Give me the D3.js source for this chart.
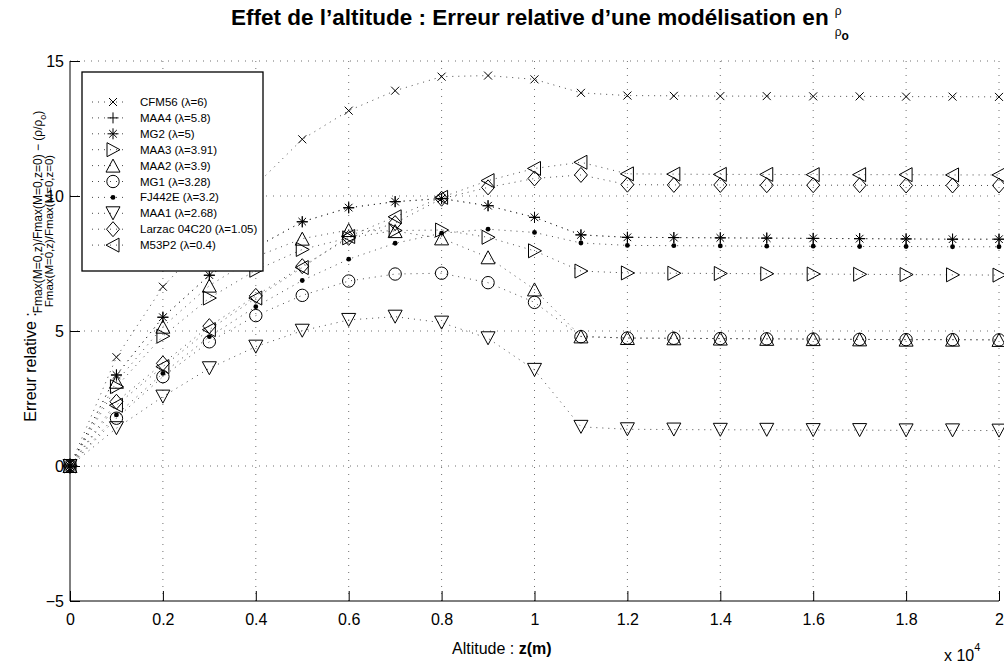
<!DOCTYPE html>
<html>
<head>
<meta charset="utf-8">
<script src="https://cdn.jsdelivr.net/npm/d3@7"></script>
<style>
  body { margin: 0; background: #fff; }
  svg { display: block; font-family: "Liberation Sans", Arial, Helvetica, sans-serif; }
</style>
</head>
<body>
<svg id="chart" width="1004" height="667"></svg>
<script>
// Altitude (m)
const altitudes = [0, 1000, 2000, 3000, 4000, 5000, 6000, 7000, 8000, 9000, 10000,
                   11000, 12000, 13000, 14000, 15000, 16000, 17000, 18000, 19000, 20000];

// Relative error for each engine
const cfm56  = [0, 4.03, 6.64, 8.45, 10.40, 12.10, 13.16, 13.90, 14.42, 14.46, 14.32, 13.82, 13.72, 13.71, 13.70, 13.70, 13.69, 13.69, 13.68, 13.68, 13.67];
const maa4   = [0, 3.37, 5.51, 7.06, 8.10, 9.04, 9.56, 9.79, 9.90, 9.64, 9.21, 8.56, 8.47, 8.46, 8.45, 8.44, 8.43, 8.42, 8.41, 8.40, 8.40];
const mg2    = [0, 3.37, 5.51, 7.07, 8.10, 9.05, 9.57, 9.79, 9.91, 9.64, 9.21, 8.56, 8.47, 8.46, 8.45, 8.44, 8.43, 8.42, 8.41, 8.40, 8.40];
const maa3   = [0, 2.94, 4.81, 6.22, 7.25, 8.02, 8.45, 8.72, 8.74, 8.47, 7.97, 7.22, 7.15, 7.14, 7.13, 7.12, 7.11, 7.10, 7.09, 7.08, 7.07];
const maa2   = [0, 3.12, 5.16, 6.68, 7.75, 8.42, 8.74, 8.70, 8.43, 7.73, 6.54, 4.80, 4.74, 4.73, 4.72, 4.71, 4.70, 4.69, 4.68, 4.68, 4.67];
const mg1    = [0, 1.77, 3.31, 4.60, 5.57, 6.32, 6.85, 7.11, 7.14, 6.79, 6.06, 4.79, 4.74, 4.73, 4.72, 4.71, 4.70, 4.69, 4.68, 4.68, 4.67];
const fj442e = [0, 1.89, 3.43, 4.79, 5.90, 6.87, 7.66, 8.25, 8.62, 8.77, 8.65, 8.26, 8.17, 8.16, 8.15, 8.14, 8.14, 8.13, 8.13, 8.12, 8.12];
const maa1   = [0, 1.40, 2.57, 3.62, 4.42, 5.01, 5.41, 5.53, 5.31, 4.73, 3.56, 1.45, 1.36, 1.35, 1.34, 1.34, 1.33, 1.33, 1.32, 1.32, 1.31];
const larzac = [0, 2.38, 3.80, 5.18, 6.30, 7.40, 8.45, 9.00, 9.90, 10.32, 10.65, 10.78, 10.42, 10.41, 10.41, 10.40, 10.40, 10.40, 10.39, 10.39, 10.39];
const m53p2  = [0, 2.25, 3.68, 5.05, 6.22, 7.35, 8.50, 9.23, 9.95, 10.57, 11.02, 11.25, 10.82, 10.81, 10.80, 10.80, 10.79, 10.79, 10.79, 10.78, 10.78];

const seriesLabels = ["CFM56 (λ=6)", "MAA4 (λ=5.8)", "MG2 (λ=5)", "MAA3 (λ=3.91)", "MAA2 (λ=3.9)",
                      "MG1 (λ=3.28)", "FJ442E (λ=3.2)", "MAA1 (λ=2.68)", "Larzac 04C20 (λ=1.05)", "M53P2 (λ=0.4)"];
const seriesValues = [cfm56, maa4, mg2, maa3, maa2, mg1, fj442e, maa1, larzac, m53p2];
const seriesMarkers = ["x", "plus", "star", "tri-right", "tri-up", "circle", "dot", "tri-down", "diamond", "tri-left"];

const xTicks = [0, 2000, 4000, 6000, 8000, 10000, 12000, 14000, 16000, 18000, 20000];
const yTicks = [-5, 0, 5, 10, 15];

const svg = d3.select("#chart");
const plotLeft = 70, plotRight = 999, plotTop = 61, plotBottom = 601;

const x = d3.scaleLinear().domain([0, 20000]).range([plotLeft, plotRight]);
const y = d3.scaleLinear().domain([-5, 15]).range([plotBottom, plotTop]);

// marker glyphs, centred on the point
function markerPath(kind) {
  switch (kind) {
    case "x": return "M-4,-4L4,4M-4,4L4,-4";
    case "plus": return "M-5.5,0H5.5M0,-5.5V5.5";
    case "star": return "M-5.5,0H5.5M0,-5.5V5.5M-3.8,-3.8L3.8,3.8M-3.8,3.8L3.8,-3.8";
    case "tri-right": return "M-6,-7L7,0L-6,7Z";
    case "tri-left": return "M6,-7L-7,0L6,7Z";
    case "tri-up": return "M0,-6.5L7,6.5L-7,6.5Z";
    case "tri-down": return "M-7,-6.5L7,-6.5L0,6.5Z";
    case "diamond": return "M0,-7.5L6.5,0L0,7.5L-6.5,0Z";
    case "circle": return d3.arc()({innerRadius: 0, outerRadius: 6.2, startAngle: 0, endAngle: 2 * Math.PI});
    case "dot": return d3.arc()({innerRadius: 0, outerRadius: 2.4, startAngle: 0, endAngle: 2 * Math.PI});
  }
}

// grid
const grid = svg.append("g").attr("stroke", "#000").attr("stroke-width", 0.8)
  .attr("stroke-dasharray", "1,6").attr("opacity", 0.7);
grid.selectAll(".gx").data(xTicks.slice(1)).join("line")
  .attr("x1", d => x(d)).attr("x2", d => x(d)).attr("y1", plotBottom).attr("y2", plotTop);
grid.selectAll(".gy").data(yTicks.slice(1)).join("line")
  .attr("x1", plotLeft).attr("x2", plotRight).attr("y1", d => y(d)).attr("y2", d => y(d));

// axes
const xAxis = d3.axisBottom(x).tickValues(xTicks).tickSizeInner(-10).tickSizeOuter(0)
  .tickPadding(13).tickFormat(d => d3.format("~g")(d / 10000));
const yAxis = d3.axisLeft(y).tickValues(yTicks).tickSizeInner(-10).tickSizeOuter(0)
  .tickPadding(6).tickFormat(d3.format("d"));

const gx = svg.append("g").attr("transform", `translate(0,${plotBottom})`).call(xAxis);
const gy = svg.append("g").attr("transform", `translate(${plotLeft},0)`).call(yAxis);
[gx, gy].forEach(g => {
  g.selectAll("text").attr("font-size", 16).attr("fill", "#000")
    .attr("font-family", "'Liberation Sans', Arial, sans-serif");
  g.selectAll("line, path").attr("stroke", "#000");
});
gy.select(".domain").attr("d", `M0,${plotTop}V${plotBottom}`);
gx.select(".domain").attr("d", `M${plotLeft},0H${plotRight}`);

// series
const line = d3.line().x((d, i) => x(altitudes[i])).y(d => y(d));
const plot = svg.append("g");
seriesValues.forEach((vals, k) => {
  plot.append("path").datum(vals).attr("d", line)
    .attr("fill", "none").attr("stroke", "#000").attr("stroke-width", 0.9)
    .attr("stroke-dasharray", "1,5").attr("opacity", 0.8);
  const filled = seriesMarkers[k] === "dot";
  plot.append("g").selectAll("path").data(vals).join("path")
    .attr("transform", (d, i) => `translate(${x(altitudes[i])},${y(d)})`)
    .attr("d", markerPath(seriesMarkers[k]))
    .attr("fill", filled ? "#000" : "none")
    .attr("stroke", filled ? "none" : "#000").attr("stroke-width", 1);
});

// legend
const lg = svg.append("g");
lg.append("rect").attr("x", 82).attr("y", 72).attr("width", 181).attr("height", 199)
  .attr("fill", "#fff").attr("stroke", "#000").attr("stroke-width", 1.3);
seriesLabels.forEach((name, k) => {
  const ry = 102 + k * 15.9;
  lg.append("line").attr("x1", 92).attr("x2", 128).attr("y1", ry).attr("y2", ry)
    .attr("stroke", "#000").attr("stroke-width", 0.9).attr("stroke-dasharray", "1,5").attr("opacity", 0.8);
  const filled = seriesMarkers[k] === "dot";
  lg.append("path").attr("transform", `translate(113,${ry})`).attr("d", markerPath(seriesMarkers[k]))
    .attr("fill", filled ? "#000" : "none").attr("stroke", filled ? "none" : "#000");
  lg.append("text").attr("x", 140).attr("y", ry + 4).attr("font-size", 11.5).text(name);
});

// title with the density ratio written as a small stacked fraction
const title = svg.append("text").attr("x", 231).attr("y", 25)
  .attr("font-size", 22.5).attr("font-weight", "bold")
  .text("Effet de l’altitude : Erreur relative d’une modélisation en");
const tEnd = 231 + title.node().getComputedTextLength();
svg.append("text").attr("x", tEnd + 6).attr("y", 15).attr("font-size", 12).text("ρ");
const rho0 = svg.append("text").attr("x", tEnd + 6).attr("y", 36).attr("font-size", 12);
rho0.append("tspan").text("ρ");
rho0.append("tspan").attr("dy", 4).attr("font-weight", "bold").text("o");

// axis labels
const xl = svg.append("text").attr("x", 452).attr("y", 654).attr("font-size", 16);
xl.append("tspan").text("Altitude :  ");
xl.append("tspan").attr("font-weight", "bold").text("z(m)");

const mult = svg.append("text").attr("x", 944).attr("y", 661).attr("font-size", 16);
mult.append("tspan").text("x 10");
mult.append("tspan").attr("dy", -10).attr("font-size", 11).text("4");

svg.append("text").attr("transform", "translate(36,367) rotate(-90)")
  .attr("text-anchor", "middle").attr("font-size", 16).text("Erreur relative :");
const num = svg.append("text").attr("transform", "translate(42,212) rotate(-90)")
  .attr("text-anchor", "middle").attr("font-size", 12);
num.append("tspan").text("Fmax(M=0,z)/Fmax(M=0,z=0) − (ρ/ρ");
num.append("tspan").attr("dy", 4).attr("font-size", 9).text("o");
num.append("tspan").attr("dy", -4).text(")");
svg.append("text").attr("transform", "translate(53,231) rotate(-90)")
  .attr("text-anchor", "middle").attr("font-size", 11.5).text("Fmax(M=0,z)/Fmax(M=0,z=0)");
</script>
</body>
</html>
